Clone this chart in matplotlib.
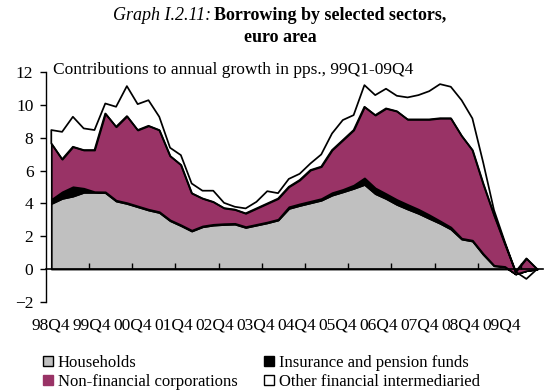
import matplotlib
matplotlib.use("Agg")
import matplotlib.pyplot as plt
from matplotlib.patches import Patch
import numpy as np

plt.rcParams['font.family'] = ['Liberation Serif', 'DejaVu Serif']

quarter_labels = ["98Q4", "99Q4", "00Q4", "01Q4", "02Q4", "03Q4",
                  "04Q4", "05Q4", "06Q4", "07Q4", "08Q4", "09Q4"]

# contributions in pps
households = [4.0, 4.31, 4.45, 4.68, 4.68, 4.66, 4.15, 4.0, 3.8, 3.6, 3.45, 2.95,
              2.65, 2.32, 2.58, 2.68, 2.72, 2.74, 2.54, 2.68, 2.82, 2.99, 3.7, 3.88,
              4.04, 4.2, 4.51, 4.71, 4.92, 5.16, 4.6, 4.3, 3.94, 3.66, 3.4, 3.09,
              2.79, 2.44, 1.83, 1.71, 0.89, 0.2, 0.14, -0.3, -0.1, 0.0]
insurance = [0.25, 0.4, 0.57, 0.25, 0.04, 0.05, 0.05, 0.05, 0.05, 0.05, 0.05, 0.05,
             0.05, 0.05, 0.05, 0.05, 0.05, 0.05, 0.05, 0.05, 0.05, 0.05, 0.1, 0.1,
             0.1, 0.1, 0.15, 0.15, 0.2, 0.4, 0.35, 0.3, 0.3, 0.28, 0.25, 0.22,
             0.15, 0.12, 0.05, 0.05, 0.05, 0.03, 0.02, 0.0, 0.0, 0.0]
non_fin_corp = [3.41, 1.99, 2.44, 2.33, 2.54, 4.78, 4.48, 5.28, 4.63, 5.09, 4.98, 3.9,
                3.66, 2.26, 1.68, 1.37, 0.95, 0.84, 0.81, 0.97, 1.13, 1.26, 1.22, 1.45,
                1.9, 1.95, 2.6, 3.01, 3.36, 4.34, 4.44, 5.2, 5.39, 5.19, 5.48, 5.82,
                6.26, 6.64, 6.25, 5.5, 4.26, 3.07, 1.39, 0.14, 0.75, 0.0]
other_fin = [0.82, 1.67, 1.83, 1.32, 1.22, 0.61, 1.22, 1.83, 1.58, 1.56, 0.81, 0.5,
             0.59, 0.59, 0.47, 0.68, 0.32, 0.17, 0.3, 0.4, 0.75, 0.33, 0.48, 0.38,
             0.4, 0.74, 1.01, 1.22, 0.91, 1.32, 1.22, 1.2, 0.94, 1.34, 1.48, 1.72,
             2.08, 1.92, 2.17, 1.93, 1.3, 0.3, 0.12, 0.0, -1.25, 0.0]

series_names = ["Households", "Insurance and pension funds",
                "Non-financial corporations", "Other financial intermediaried"]


def draw_chart(path="out.png"):
    fig = plt.figure(figsize=(5.47, 3.91), dpi=100)
    ax = fig.add_axes([0.0839, 0.228, 0.908, 0.587])

    x = np.arange(len(households))
    series = [households, insurance, non_fin_corp, other_fin]
    colors = ["#c0c0c0", "black", "#993366", "none"]
    base = np.zeros(len(x))
    for vals, col in zip(series, colors):
        top = base + np.asarray(vals)
        ax.fill_between(x, base, top, facecolor=col, edgecolor="black", linewidth=1.25)
        base = top

    ax.set_xlim(-0.5, 45.5)
    ax.set_ylim(-2, 12)
    ax.spines["top"].set_visible(False)
    ax.spines["right"].set_visible(False)
    ax.spines["bottom"].set_position(("data", 0))
    ax.spines["bottom"].set_linewidth(1.2)
    ax.spines["left"].set_linewidth(1.0)

    ax.set_xticks(np.arange(3.5, 45, 4))
    ax.tick_params(axis="x", direction="in", length=4, width=1, labelbottom=False)
    ax.set_yticks(range(-2, 13, 2))
    ax.tick_params(axis="y", direction="out", length=4, width=1, labelsize=12.5, pad=5)

    # quarter labels sit below the plot, not on the zero axis
    for k, lab in enumerate(quarter_labels):
        ax.text(-0.07 + 3.8 * k, -3.45, lab, ha="center", va="center",
                fontsize=12.5, clip_on=False)

    fig.text(53 / 547, 1 - 70 / 391, "Contributions to annual growth in pps., 99Q1-09Q4",
             ha="left", va="center", fontsize=12.5)

    fig.text(211 / 547, 1 - 15 / 391, "Graph I.2.11:", style="italic",
             ha="right", va="center", fontsize=13)
    fig.text(214 / 547, 1 - 15 / 391, "Borrowing by selected sectors,", weight="bold",
             ha="left", va="center", fontsize=13)
    fig.text(280 / 547, 1 - 38 / 391, "euro area", weight="bold",
             ha="center", va="center", fontsize=13)

    handles = [Patch(facecolor="#c0c0c0", edgecolor="black"),
               Patch(facecolor="#993366", edgecolor="#993366"),
               Patch(facecolor="black", edgecolor="black"),
               Patch(facecolor="white", edgecolor="black")]
    labels = [series_names[0], series_names[2], series_names[1], series_names[3]]
    fig.legend(handles, labels, ncol=2, loc="upper left",
               bbox_to_anchor=(43 / 547, 1 - 355 / 391), frameon=False, fontsize=12,
               handlelength=0.6, handleheight=0.6, handletextpad=0.3,
               columnspacing=1.55, labelspacing=0.18, borderpad=0, borderaxespad=0)

    fig.savefig(path, dpi=100)
    plt.close(fig)


draw_chart()
